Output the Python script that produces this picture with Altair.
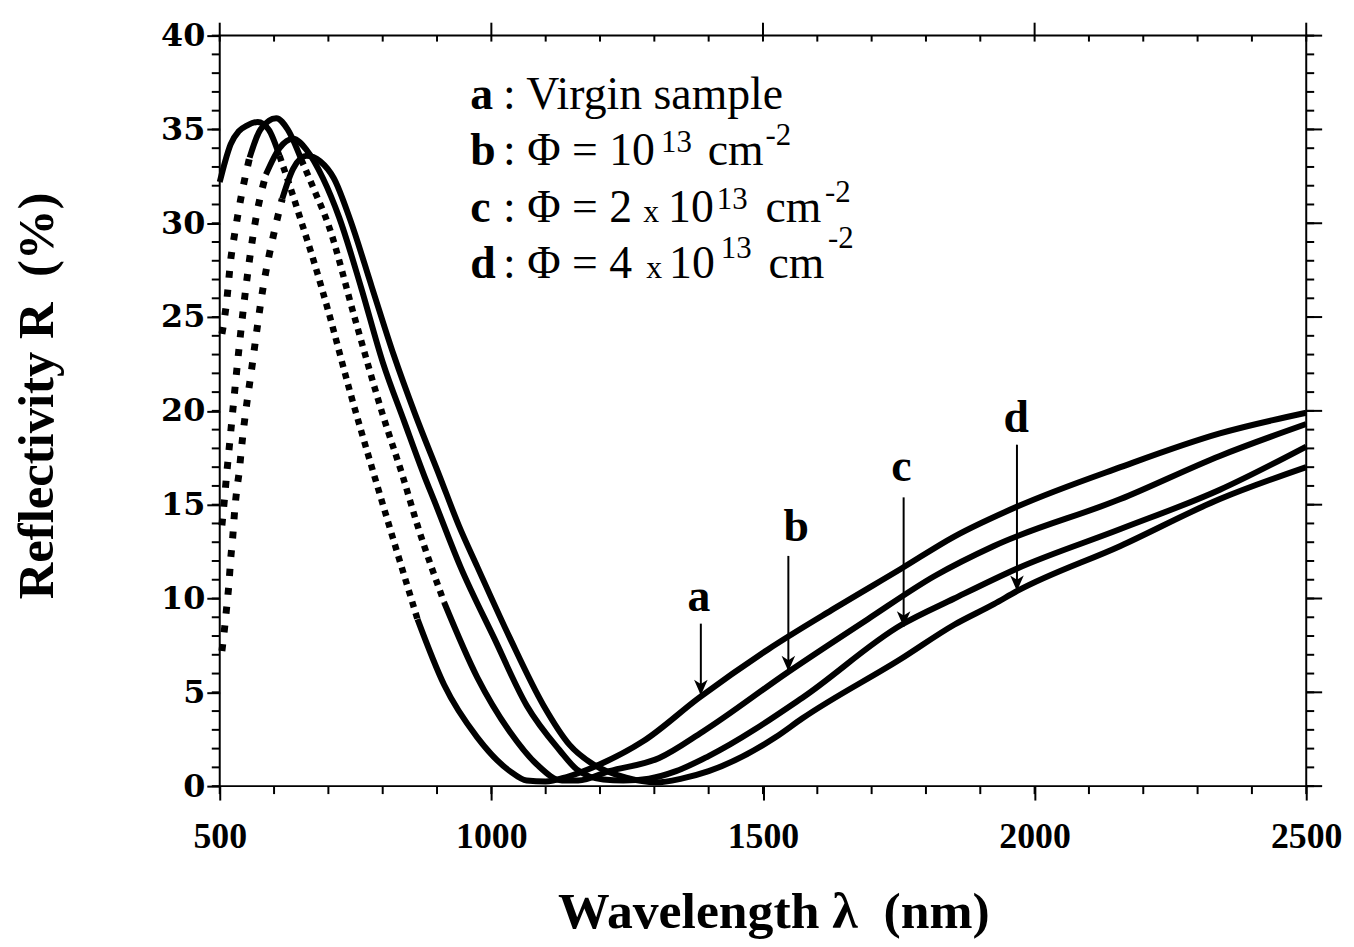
import altair as alt
import pandas as pd

# ---------------- data ----------------
wl_a = [500, 510, 520, 535, 550, 570, 590, 610, 630, 650, 675, 700, 740, 785, 820, 864, 913, 974, 1034, 1065,
        1100, 1140, 1199, 1280, 1382, 1510, 1633, 1755, 1852, 1968, 2158, 2341, 2500]
R_a = [32.2, 33.3, 34.2, 34.9, 35.2, 35.4, 35.0, 33.6, 31.9, 30.1, 27.8, 25.3, 21.0, 16.5, 13.1, 8.9, 5.4, 2.6, 0.8, 0.3,
       0.25, 0.5, 1.15, 2.4, 4.7, 7.3, 9.5, 11.6, 13.3, 14.9, 17.0, 18.8, 19.9]

wl_b = [504, 509, 513, 517, 520, 524, 529, 540, 555, 575, 604, 625, 650, 675, 699, 750, 800, 837, 864, 913, 974,
        1034, 1084, 1130, 1160, 1217, 1309, 1389, 1547, 1693, 1816, 1925, 2158, 2341, 2500]
R_b = [24.1, 25.0, 25.9, 27.1, 28.0, 28.8, 29.7, 31.5, 33.5, 35.0, 35.6, 35.0, 33.4, 31.7, 30.0, 24.8, 19.8, 16.5, 13.9,
       9.8, 5.8, 2.9, 1.15, 0.3, 0.3, 0.8, 1.5, 2.9, 6.1, 8.9, 11.2, 12.8, 15.3, 17.6, 19.3]

wl_c = [504, 509, 513, 517, 525, 535, 550, 565, 585, 610, 635, 660, 690, 720, 760, 800, 840, 877, 895, 943, 1005,
        1065, 1126, 1157, 1206, 1243, 1290, 1340, 1400, 1572, 1755, 1852, 1968, 2158, 2341, 2500]
R_c = [13.9, 15.4, 16.7, 17.9, 20.3, 23.2, 27.0, 30.0, 32.6, 34.0, 34.5, 33.9, 32.4, 30.3, 26.6, 22.6, 19.4, 16.5, 15.2,
       11.7, 7.9, 4.3, 1.9, 0.9, 0.35, 0.3, 0.4, 0.8, 1.6, 4.7, 8.6, 10.0, 11.6, 13.7, 15.8, 18.1]

wl_d = [504, 509, 513, 517, 520, 524, 527, 531, 536, 540, 560, 580, 600, 615, 635, 660, 685, 710, 740, 780, 820,
        860, 905, 940, 974, 1034, 1096, 1144, 1188, 1248, 1303, 1350, 1400, 1523, 1572, 1755, 1852, 1925, 1968,
        2158, 2341, 2500]
R_d = [7.2, 8.45, 9.6, 10.8, 12.05, 13.3, 14.5, 15.7, 16.8, 18.0, 22.5, 26.6, 29.5, 31.3, 32.9, 33.6, 33.3, 32.4, 30.2,
       26.6, 23.0, 19.8, 16.5, 13.9, 11.7, 7.9, 4.3, 2.2, 1.15, 0.45, 0.2, 0.4, 0.8, 2.6, 3.6, 6.8, 8.6, 9.7, 10.4,
       12.8, 15.3, 17.0]

curve_names = ["a", "b", "c", "d"]
# wavelength ranges where the steep flanks show as separate markers
rising_dotted = {"a": None, "b": (504, 555), "c": (504, 585), "d": (504, 615)}
falling_dotted = {"a": (610, 864), "b": (650, 913), "c": None, "d": None}

# arrows and their letters (data coordinates)
arrow_wl = [1385.6, 1546.7, 1758.9, 1967.5]
arrow_top = [8.66, 12.27, 15.39, 18.2]
arrow_tip = [4.85, 6.12, 8.5, 10.4]
label_wl = [1382, 1561, 1755, 1966]
label_R = [9.35, 13.06, 16.24, 18.89]

x_major = [500, 1000, 1500, 2000, 2500]
x_minor = list(range(500, 2501, 100))
y_major = list(range(0, 41, 5))
y_minor = list(range(0, 41, 1))

# ---------------- tables ----------------
solid_rows, rise_rows, fall_rows = [], [], []
for name, wl, rr in zip(curve_names, [wl_a, wl_b, wl_c, wl_d], [R_a, R_b, R_c, R_d]):
    ranges = []
    if rising_dotted[name]:
        ranges.append(("rise", rising_dotted[name]))
    if falling_dotted[name]:
        ranges.append(("fall", falling_dotted[name]))
    # solid pieces are the gaps between the dotted ranges
    edges = [wl[0]]
    for _, (lo, hi) in ranges:
        edges += [lo, hi]
    edges.append(wl[-1])
    solid_pieces = [(edges[i], edges[i + 1]) for i in range(0, len(edges), 2)]
    for k, (lo, hi) in enumerate(solid_pieces):
        for w, r in zip(wl, rr):
            if lo <= w <= hi and lo < hi:
                solid_rows.append({"seg": f"{name}{k}", "wl": w, "R": r})
    for kind, (lo, hi) in ranges:
        target = rise_rows if kind == "rise" else fall_rows
        for w, r in zip(wl, rr):
            if lo <= w <= hi:
                target.append({"seg": f"{name}{kind}", "wl": w, "R": r})

df_solid = pd.DataFrame(solid_rows)
df_rise = pd.DataFrame(rise_rows)
df_fall = pd.DataFrame(fall_rows)

arrows = pd.DataFrame({"label": curve_names, "wl": arrow_wl, "top": arrow_top, "tip": arrow_tip,
                       "lwl": label_wl, "lR": label_R})
xmaj = pd.DataFrame({"v": x_major})
xmin = pd.DataFrame({"v": x_minor})
ymaj = pd.DataFrame({"v": y_major})
ymin = pd.DataFrame({"v": y_minor})

W, H = 1093, 755
SERIF = "Liberation Serif"
xs = alt.Scale(domain=[500, 2500], nice=False, zero=False)
ys = alt.Scale(domain=[0, 40], nice=False, zero=False)

main_x = alt.Axis(values=x_major, tickSize=14, tickWidth=2, tickColor="black", domain=False, grid=False,
                  labelFont=SERIF, labelFontWeight="bold", labelFontSize=36, labelColor="black",
                  labelPadding=20, labelFlush=False, format="d",
                  title="Wavelength λ \u00a0(nm)", titleFont=SERIF, titleFontSize=52, titleFontWeight="bold",
                  titleColor="black", titleX=557, titleY=142, titleAlign="center", titleBaseline="alphabetic")
main_y = alt.Axis(values=y_major, tickSize=13, tickWidth=2, tickColor="black", domain=False, grid=False,
                  labelFont="DejaVu Serif", labelFontWeight="bold", labelFontSize=32, labelColor="black",
                  labelPadding=2, labelFlush=False, format="d",
                  title="Reflectivity R \u00a0(%)", titleFont=SERIF, titleFontSize=51, titleFontWeight="bold",
                  titleColor="black", titleX=-183, titleY=362, titleAngle=270, titleAlign="center",
                  titleBaseline="middle")

lines = alt.Chart(df_solid).mark_line(color="black", strokeWidth=6, interpolate="monotone").encode(
    x=alt.X("wl:Q", scale=xs, axis=main_x),
    y=alt.Y("R:Q", scale=ys, axis=main_y),
    detail="seg:N",
)
rise = alt.Chart(df_rise).mark_line(color="black", strokeWidth=7, strokeDash=[7, 12],
                                    interpolate="monotone").encode(
    x=alt.X("wl:Q", scale=xs, axis=None), y=alt.Y("R:Q", scale=ys, axis=None), detail="seg:N")
fall = alt.Chart(df_fall).mark_line(color="black", strokeWidth=6.5, strokeDash=[6, 6],
                                    interpolate="monotone").encode(
    x=alt.X("wl:Q", scale=xs, axis=None), y=alt.Y("R:Q", scale=ys, axis=None), detail="seg:N")


def xticks(data, y0, y1):
    return alt.Chart(data).mark_rule(color="black", strokeWidth=2).encode(
        x=alt.X("v:Q", scale=xs, axis=None), y=alt.value(y0), y2=alt.value(y1))


def yticks(data, x0, x1):
    return alt.Chart(data).mark_rule(color="black", strokeWidth=2).encode(
        y=alt.Y("v:Q", scale=ys, axis=None), x=alt.value(x0), x2=alt.value(x1))


ticks = [
    xticks(xmin, H, H + 8),       # bottom minor (outward)
    xticks(xmin, 0, 6),           # top minor (inward)
    xticks(xmaj, 0, -13),         # top major (outward)
    yticks(ymin, 0, -8),          # left minor (outward)
    yticks(ymin, W, W + 8),       # right minor (outward)
    yticks(ymaj, W, W + 16),      # right major (outward)
]

shafts = alt.Chart(arrows).mark_rule(color="black", strokeWidth=2).encode(
    x=alt.X("wl:Q", scale=xs, axis=None), y=alt.Y("top:Q", scale=ys, axis=None), y2="tip:Q")
heads = alt.Chart(arrows).mark_point(
    shape="M0,0 L-0.7,-1.6 L0,-1.15 L0.7,-1.6 Z", filled=True, color="black", opacity=1, size=380
).encode(x=alt.X("wl:Q", scale=xs, axis=None), y=alt.Y("tip:Q", scale=ys, axis=None))
letters = alt.Chart(arrows).mark_text(font=SERIF, fontWeight="bold", fontSize=46, color="black",
                                      align="center", baseline="alphabetic").encode(
    x=alt.X("lwl:Q", scale=xs, axis=None), y=alt.Y("lR:Q", scale=ys, axis=None), text="label:N")

one = pd.DataFrame({"k": [0]})


def txt(s, x, y, size=46, bold=False):
    return alt.Chart(one).mark_text(font=SERIF, fontSize=size, fontWeight="bold" if bold else "normal",
                                    color="black", align="left", baseline="alphabetic").encode(
        x=alt.value(x - 221), y=alt.value(y - 33), text=alt.value(s))


legend = [
    txt("a", 473, 107, bold=True), txt(": Virgin sample", 506, 107),
    txt("b", 473, 163, bold=True), txt(": Φ = 10", 506, 163), txt("13", 665, 150, 31),
    txt("cm", 712, 163), txt("-2", 770, 143, 31),
    txt("c", 473, 220, bold=True), txt(": Φ = 2", 506, 220), txt("x", 647, 220, 32), txt("10", 672, 220),
    txt("13", 721, 207, 31), txt("cm", 770, 220), txt("-2", 830, 200, 31),
    txt("d", 473, 277, bold=True), txt(": Φ = 4", 506, 277), txt("x", 650, 277, 32), txt("10", 673, 277),
    txt("13", 725, 257, 31), txt("cm", 773, 277), txt("-2", 833, 247, 31),
]

chart = alt.layer(lines, rise, fall, *ticks, shafts, heads, letters, *legend).resolve_axis(
    x="independent", y="independent"
).properties(
    width=W, height=H,
    autosize=alt.AutoSizeParams(type="none"),
    padding={"left": 213, "top": 25, "right": 40, "bottom": 151},
    background="white",
).configure_view(stroke="black", strokeWidth=2)

chart.save("out.html", embed_options={"renderer": "svg", "actions": False})
